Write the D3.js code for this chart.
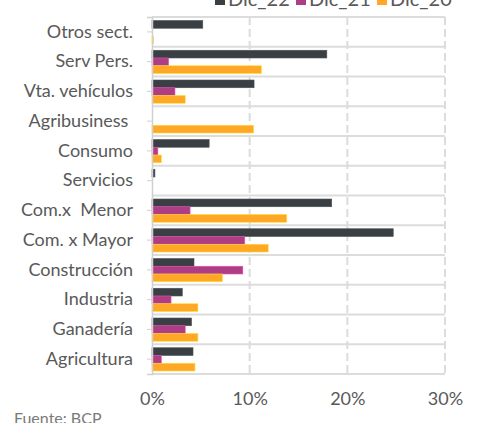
<!DOCTYPE html>
<html>
<head>
<meta charset="utf-8">
<script src="https://cdn.jsdelivr.net/npm/d3@7"></script>
<style>
  body { margin: 0; background: #fff; }
  text { font-family: Lato, "Open Sans", sans-serif; }
</style>
</head>
<body>
<div id="chart"></div>
<script>
const categories = ['Otros sect.', 'Serv Pers.', 'Vta. vehículos', 'Agribusiness ', 'Consumo', 'Servicios',
    'Com.x  Menor', 'Com. x Mayor', 'Construcción', 'Industria', 'Ganadería', 'Agricultura'];
const seriesNames = ['Dic_22', 'Dic_21', 'Dic_20'];
const dic22 = [5.2, 17.9, 10.45, 0, 5.85, 0.3, 18.4, 24.7, 4.3, 3.1, 4.05, 4.2];
const dic21 = [0, 1.7, 2.35, 0, 0.6, 0, 3.9, 9.5, 9.3, 1.95, 3.4, 0.95];
const dic20 = [0.15, 11.2, 3.4, 10.4, 0.95, 0, 13.8, 11.9, 7.2, 4.7, 4.7, 4.4];
const xTicks = [0, 10, 20, 30];
const colors = ['#3a3f44', '#ad3d84', '#ffa726'];

const width = 483, height = 423;
const margin = {top: 17, right: 38, bottom: 49, left: 152};
const series = [dic22, dic21, dic20];

const svg = d3.select('#chart').append('svg')
    .attr('width', width)
    .attr('height', height);

const x = d3.scaleLinear().domain([0, 30]).range([margin.left, width - margin.right]);
const y = d3.scaleBand().domain(categories).range([margin.top, height - margin.bottom]);
const ySub = d3.scaleBand().domain(seriesNames).range([3.5, y.bandwidth() - 3]);

// horizontal band lines
svg.append('g')
    .selectAll('line')
    .data(categories.concat(['__end']))
    .join('line')
    .attr('x1', x(0))
    .attr('x2', x(30))
    .attr('y1', (d, i) => y.range()[0] + i * y.step())
    .attr('y2', (d, i) => y.range()[0] + i * y.step())
    .attr('stroke', '#dcdcdc')
    .attr('stroke-width', 2);

// vertical dashed grid
svg.append('g')
    .selectAll('line')
    .data(xTicks.slice(1))
    .join('line')
    .attr('x1', d => x(d))
    .attr('x2', d => x(d))
    .attr('y1', margin.top)
    .attr('y2', height - margin.bottom)
    .attr('stroke', '#dcdcdc')
    .attr('stroke-width', 2)
    .attr('stroke-dasharray', '8,4');

// bars
series.forEach((vals, si) => {
    svg.append('g')
        .selectAll('rect')
        .data(vals)
        .join('rect')
        .attr('x', x(0))
        .attr('y', (d, i) => y(categories[i]) + ySub(seriesNames[si]))
        .attr('width', d => x(d) - x(0))
        .attr('height', ySub.bandwidth())
        .attr('fill', colors[si])
        .attr('stroke', d3.color(colors[si]).brighter(0.8))
        .attr('stroke-width', 0.6)
        .attr('display', d => d > 0 ? null : 'none');
});

// left axis
const yAxis = svg.append('g')
    .attr('transform', `translate(${x(0)},0)`)
    .call(d3.axisLeft(y).tickSize(5).tickPadding(14));
yAxis.select('.domain').attr('stroke', '#d0d0d0').attr('stroke-width', 1.5);
yAxis.selectAll('.tick line').attr('stroke', '#d0d0d0');
yAxis.selectAll('.tick text')
    .attr('fill', '#595959')
    .style('font-size', '18px')
    .style('white-space', 'pre');

// bottom axis labels
const xAxis = svg.append('g')
    .attr('transform', `translate(0,${height - margin.bottom})`)
    .call(d3.axisBottom(x).tickValues(xTicks).tickFormat(d => d + '%').tickSize(0).tickPadding(18));
xAxis.select('.domain').remove();
xAxis.selectAll('.tick text')
    .attr('fill', '#595959')
    .style('font-size', '18px');

// legend (top, partially cut off)
const legendX = [215, 296, 377];
const legend = svg.append('g');
seriesNames.forEach((name, i) => {
    legend.append('rect')
        .attr('x', legendX[i])
        .attr('y', -5)
        .attr('width', 10)
        .attr('height', 10)
        .attr('fill', colors[i]);
    legend.append('text')
        .attr('x', legendX[i] + 13)
        .attr('y', 5.5)
        .attr('fill', '#595959')
        .style('font-size', '20px')
        .text(name);
});

// source
svg.append('text')
    .attr('x', 14)
    .attr('y', 423.5)
    .attr('fill', '#7a7a7a')
    .style('font-size', '16px')
    .text('Fuente: BCP');
</script>
</body>
</html>
